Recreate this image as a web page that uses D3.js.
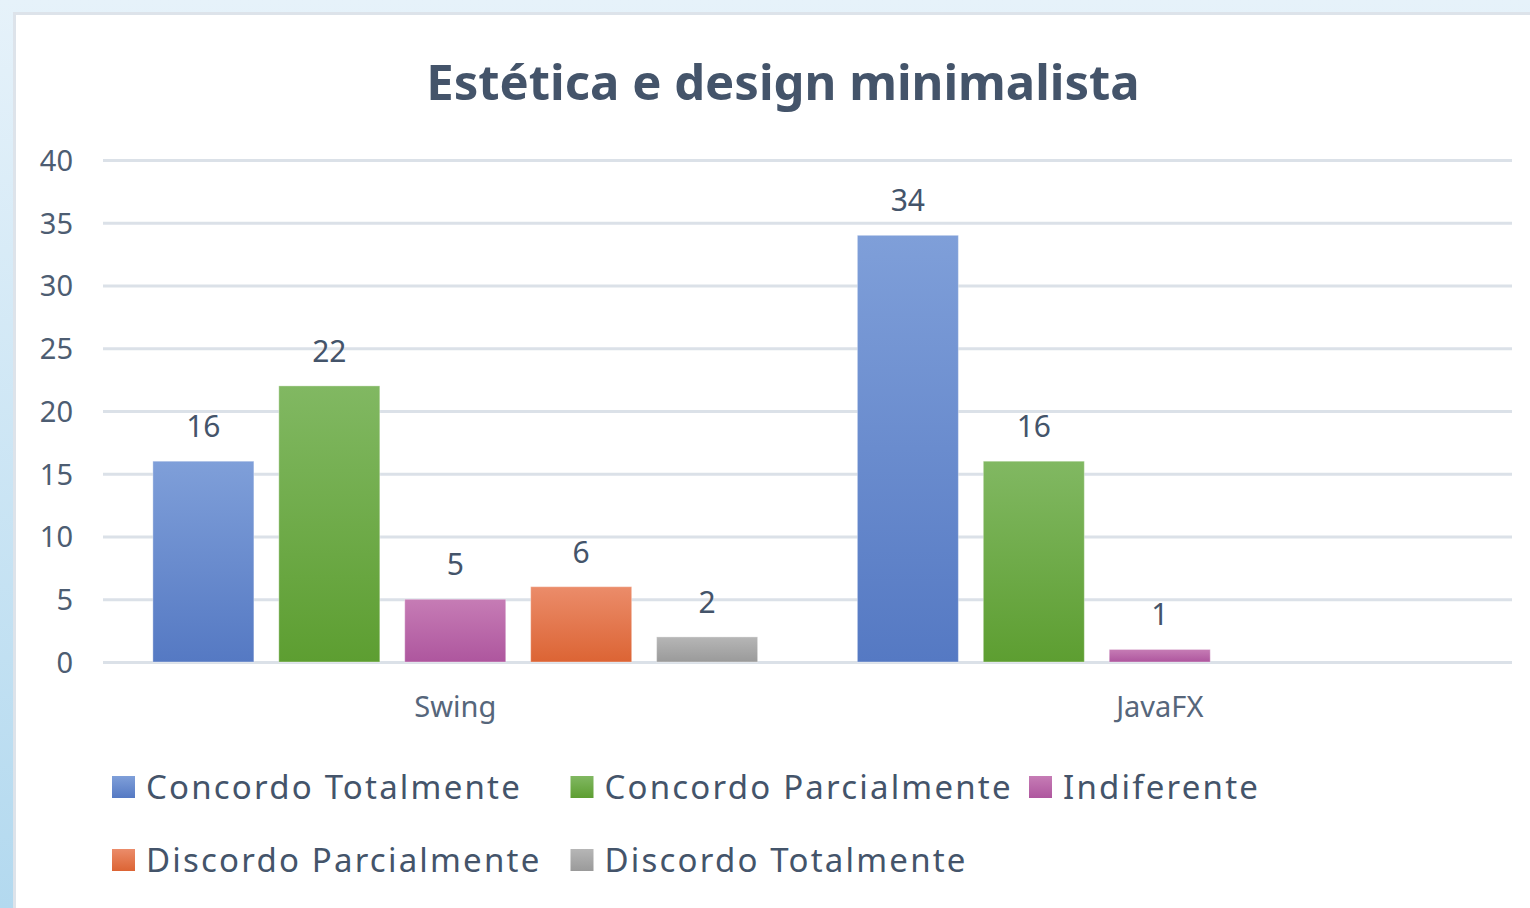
<!DOCTYPE html>
<html>
<head>
<meta charset="utf-8">
<script src="https://cdn.jsdelivr.net/npm/d3@7"></script>
<style>
  html, body { margin: 0; padding: 0; overflow: hidden; }
  text { font-family: "Noto Sans", sans-serif; }
</style>
</head>
<body>
<div id="container"></div>
<script>
const categories = ["Swing", "JavaFX"];
const seriesNames = ["Concordo Totalmente", "Concordo Parcialmente", "Indiferente", "Discordo Parcialmente", "Discordo Totalmente"];
const swingValues = [16, 22, 5, 6, 2];
const javafxValues = [34, 16, 1, null, null];
const yTicks = [0, 5, 10, 15, 20, 25, 30, 35, 40];
const titleText = "Estética e design minimalista";

const colors = [
    ["#7f9fd9", "#5579c3"],
    ["#81b862", "#5d9e31"],
    ["#c67cb5", "#ae569e"],
    ["#eb8c6a", "#dc6434"],
    ["#b6b6b6", "#9a9a9a"]
];

const valuesByCat = { "Swing": swingValues, "JavaFX": javafxValues };

let width = 1530,
    height = 908;

const svg = d3.select("#container").append("svg")
    .attr("width", width)
    .attr("height", height);

const defs = svg.append("defs");

// page background
const bg = defs.append("linearGradient").attr("id", "bg")
    .attr("x1", 0).attr("y1", 0).attr("x2", 0).attr("y2", 1);
bg.append("stop").attr("offset", "0%").attr("stop-color", "#e6f2fa");
bg.append("stop").attr("offset", "100%").attr("stop-color", "#b3d9ef");

colors.forEach((c, i) => {
    const g = defs.append("linearGradient").attr("id", "grad" + i)
        .attr("x1", 0).attr("y1", 0).attr("x2", 0).attr("y2", 1);
    g.append("stop").attr("offset", "0%").attr("stop-color", c[0]);
    g.append("stop").attr("offset", "100%").attr("stop-color", c[1]);
});

svg.append("rect").attr("width", width).attr("height", height).attr("fill", "url(#bg)");
svg.append("rect")
    .attr("x", 14.5).attr("y", 13.5)
    .attr("width", width).attr("height", height)
    .attr("fill", "#ffffff")
    .attr("stroke", "#dde3ea")
    .attr("stroke-width", 3);

// title
svg.append("text")
    .attr("x", 783).attr("y", 100)
    .attr("text-anchor", "middle")
    .attr("font-size", 49)
    .attr("font-weight", "bold")
    .attr("fill", "#44546a")
    .text(titleText);

// scales
const x0 = d3.scaleBand()
    .domain(categories)
    .range([103, 1512]);

const x1 = d3.scaleBand()
    .domain(seriesNames)
    .range([0, x0.bandwidth()])
    .paddingInner(0.198)
    .paddingOuter(0.396);

const y = d3.scaleLinear()
    .domain([0, 40])
    .range([662, 160]);

// gridlines + y labels
const yAxis = d3.axisLeft(y)
    .tickValues(yTicks)
    .tickSize(-(1512 - 103))
    .tickPadding(30);

const yG = svg.append("g")
    .attr("transform", "translate(103,0)")
    .call(yAxis);
yG.select(".domain").remove();
yG.selectAll(".tick line")
    .attr("stroke", "#dbe1e8")
    .attr("stroke-width", 3);
yG.selectAll(".tick text")
    .attr("font-size", 29)
    .attr("fill", "#4d5d72")
    .attr("font-family", "Noto Sans")
    .attr("dy", "0.36em");

// x labels
const xAxis = d3.axisBottom(x0).tickSize(0).tickPadding(0);
const xG = svg.append("g")
    .attr("transform", "translate(0,662)")
    .call(xAxis);
xG.select(".domain").remove();
xG.selectAll(".tick text")
    .attr("y", 55)
    .attr("dy", 0)
    .attr("font-size", 29)
    .attr("fill", "#56667b")
    .attr("font-family", "Noto Sans");

// bars
const groups = svg.append("g").selectAll("g")
    .data(categories)
    .join("g")
    .attr("transform", d => `translate(${x0(d)},0)`);

const barData = cat => seriesNames
    .map((s, i) => ({ series: s, idx: i, value: valuesByCat[cat][i] }))
    .filter(d => d.value !== null);

groups.selectAll("rect")
    .data(barData)
    .join("rect")
    .attr("x", d => x1(d.series))
    .attr("y", d => y(d.value))
    .attr("width", x1.bandwidth())
    .attr("height", d => y(0) - y(d.value))
    .attr("fill", d => `url(#grad${d.idx})`)
    .attr("stroke", "rgba(255,255,255,0.35)")
    .attr("stroke-width", 1);

groups.selectAll("text.val")
    .data(barData)
    .join("text")
    .attr("class", "val")
    .attr("x", d => x1(d.series) + x1.bandwidth() / 2)
    .attr("y", d => y(d.value) - 24)
    .attr("text-anchor", "middle")
    .attr("font-size", 30)
    .attr("fill", "#44546a")
    .text(d => d.value);

// legend
const legendRows = [[0, 1, 2], [3, 4]];
legendRows.forEach((row, r) => {
    row.forEach((si, c) => {
        const lg = svg.append("g")
            .attr("transform", `translate(${112 + c * 458.5},${799 + r * 73})`);
        lg.append("rect")
            .attr("x", 0).attr("y", -23)
            .attr("width", 23).attr("height", 22)
            .attr("fill", `url(#grad${si})`);
        lg.append("text")
            .attr("x", 34).attr("y", 0)
            .attr("font-size", 33)
            .attr("letter-spacing", 2.2)
            .attr("fill", "#44546a")
            .text(seriesNames[si]);
    });
});
</script>
</body>
</html>
